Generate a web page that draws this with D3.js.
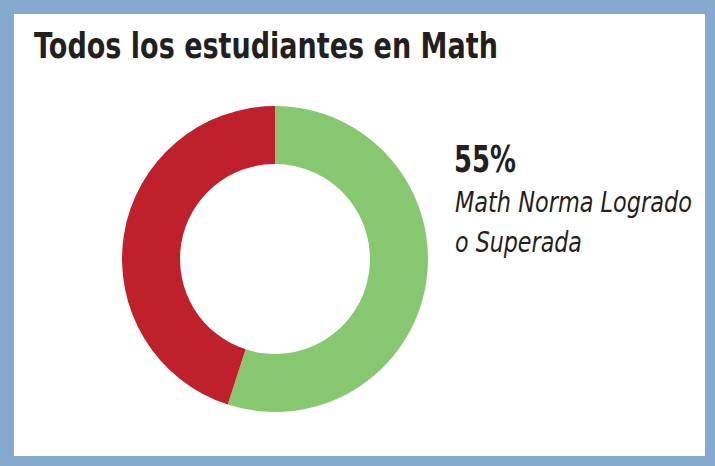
<!DOCTYPE html>
<html>
<head>
<meta charset="utf-8">
<script src="https://cdn.jsdelivr.net/npm/d3@7"></script>
<style>
  body { margin: 0; background: #fff; }
  svg text { fill: #231f20; }
</style>
</head>
<body>
<script>
var categories = ["Logrado o Superado", "No Logrado"];
var values = [55, 45];
var colors = ["#87c76f", "#c0202c"];
var titleText = "Todos los estudiantes en Math";
var pctLabel = "55%";
var legendLines = ["Math Norma Logrado", "o Superada"];

var width = 715, height = 466;
var fontStack = "'DejaVu Sans', 'Open Sans', sans-serif";

var svg = d3.select("body").append("svg")
    .attr("width", width)
    .attr("height", height);

// blue frame
svg.append("rect")
    .attr("width", width).attr("height", height)
    .attr("fill", "#84a8ce");
svg.append("rect")
    .attr("x", 14).attr("y", 14)
    .attr("width", width - 24).attr("height", height - 24)
    .attr("fill", "#fff");

// squeeze a text horizontally so it covers the target width (condensed look)
function squeeze(sel, x, y, target) {
    sel.each(function() {
        var w = this.getComputedTextLength();
        d3.select(this)
            .attr("transform", "translate(" + x + "," + y + ") scale(" + (target / w) + ",1)");
    });
}

// title
svg.append("text")
    .attr("font-family", fontStack)
    .attr("font-weight", "bold")
    .attr("font-size", 36)
    .text(titleText)
    .call(squeeze, 34, 58, 464);

// donut
var pie = d3.pie().sort(null).value(d => d);
var arc = d3.arc().innerRadius(95).outerRadius(153);

var g = svg.append("g")
    .attr("transform", "translate(275,259)");

g.selectAll("path")
    .data(pie(values))
    .enter().append("path")
    .attr("d", arc)
    .attr("fill", (d, i) => colors[i]);

// label
svg.append("text")
    .attr("font-family", fontStack)
    .attr("font-weight", "bold")
    .attr("font-size", 38)
    .text(pctLabel)
    .call(squeeze, 454, 172, 62);

var lineWidths = [237, 127];
svg.append("g").selectAll("text")
    .data(legendLines)
    .enter().append("text")
    .attr("font-family", fontStack)
    .attr("font-style", "italic")
    .attr("font-size", 28)
    .text(d => d)
    .each(function(d, i) { squeeze(d3.select(this), 455, 212 + i * 40, lineWidths[i]); });
</script>
</body>
</html>
